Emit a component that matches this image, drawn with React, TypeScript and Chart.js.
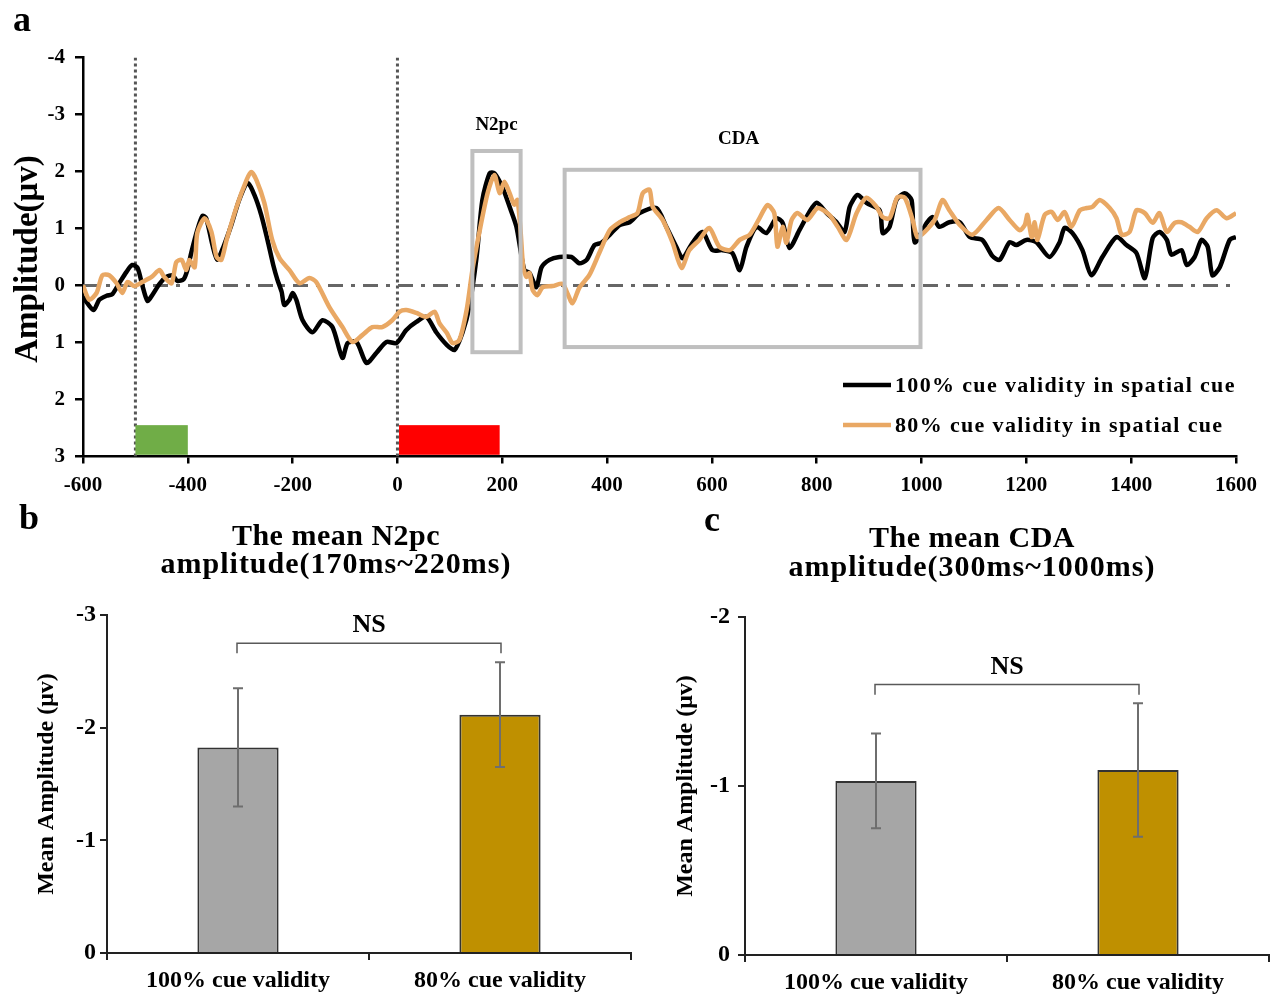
import React, { useEffect, useRef } from 'react';
import { Chart, registerables } from 'chart.js';
Chart.register(...registerables);

const FONT = '"Liberation Serif", "Times New Roman", serif';

// ---------- Panel a : grand-average waveforms ----------
const timeBlack = [-600, -580, -569, -555, -544, -531, -517, -506, -496, -487, -477, -468, -454, -441, -429, -420, -408, -401, -393, -382, -372, -365, -353, -344, -332, -317, -302, -286, -273, -260, -248, -237, -229, -221, -216, -206, -200, -193, -181, -162, -143, -124, -105, -95, -78, -59, -40, -21, -2, 17, 36, 55, 74, 94, 109, 124, 137, 151, 162, 176, 185, 200, 214, 227, 242, 252, 265, 275, 290, 309, 332, 347, 361, 376, 389, 405, 424, 443, 462, 494, 513, 532, 544, 563, 582, 601, 620, 639, 653, 666, 685, 704, 723, 735, 748, 767, 786, 800, 819, 838, 853, 863, 878, 895, 920, 926, 939, 952, 968, 981, 987, 1010, 1021, 1034, 1053, 1073, 1092, 1116, 1135, 1149, 1168, 1181, 1200, 1219, 1244, 1263, 1273, 1288, 1307, 1324, 1345, 1372, 1391, 1410, 1426, 1441, 1454, 1468, 1477, 1496, 1506, 1521, 1534, 1546, 1555, 1569, 1588, 1600];
const ampBlack = [0.2, 0.43, 0.25, 0.18, 0.15, -0.04, -0.24, -0.36, -0.31, -0.01, 0.27, 0.17, -0.03, -0.15, -0.18, -0.08, -0.11, -0.27, -0.59, -0.97, -1.22, -1.18, -0.71, -0.45, -0.68, -1.06, -1.5, -1.8, -1.59, -1.24, -0.8, -0.36, -0.1, 0.11, 0.34, 0.25, 0.13, 0.25, 0.61, 0.82, 0.61, 0.73, 1.27, 1.01, 0.99, 1.36, 1.18, 0.99, 1.01, 0.78, 0.64, 0.55, 0.82, 1.04, 1.13, 0.83, 0.38, -0.5, -1.5, -1.97, -1.97, -1.73, -1.38, -1.03, -0.27, -0.22, 0.03, -0.32, -0.45, -0.5, -0.5, -0.39, -0.45, -0.71, -0.75, -0.89, -1.06, -1.11, -1.27, -1.36, -1.03, -0.68, -0.48, -0.75, -0.94, -0.62, -0.62, -0.57, -0.27, -0.68, -1.03, -0.92, -1.18, -1.1, -0.66, -0.97, -1.29, -1.45, -1.27, -1.11, -0.94, -1.38, -1.59, -1.45, -1.32, -0.92, -1.03, -1.5, -1.62, -1.5, -0.76, -1.1, -1.2, -1.03, -1.11, -1.11, -0.85, -0.8, -0.52, -0.45, -0.76, -0.71, -0.8, -0.76, -0.5, -0.75, -1.01, -0.92, -0.62, -0.18, -0.5, -0.85, -0.71, -0.57, -0.13, -0.83, -0.94, -0.8, -0.54, -0.62, -0.36, -0.5, -0.8, -0.68, -0.18, -0.32, -0.8, -0.85];

const timeOrange = [-600, -588, -574, -563, -550, -536, -525, -515, -502, -487, -469, -454, -445, -431, -422, -412, -403, -397, -387, -382, -368, -355, -345, -336, -326, -307, -288, -279, -269, -254, -239, -225, -206, -187, -168, -155, -130, -105, -86, -67, -48, -29, -10, 4, 17, 36, 55, 71, 80, 94, 105, 118, 132, 143, 156, 172, 185, 195, 204, 214, 223, 229, 235, 240, 246, 252, 258, 267, 277, 296, 315, 324, 334, 347, 366, 385, 405, 424, 443, 458, 468, 481, 487, 506, 525, 542, 557, 576, 595, 614, 634, 653, 672, 689, 706, 719, 725, 735, 742, 752, 763, 782, 802, 824, 840, 857, 876, 895, 914, 926, 939, 954, 968, 983, 992, 1006, 1025, 1040, 1053, 1073, 1097, 1124, 1147, 1168, 1187, 1197, 1202, 1210, 1216, 1221, 1235, 1248, 1260, 1273, 1286, 1302, 1315, 1326, 1340, 1359, 1372, 1382, 1397, 1410, 1426, 1441, 1454, 1468, 1483, 1496, 1511, 1527, 1544, 1563, 1582, 1600];
const ampOrange = [0.0, 0.25, 0.13, -0.18, -0.18, -0.04, 0.13, -0.06, 0.01, -0.06, -0.15, -0.27, -0.15, -0.04, -0.41, -0.45, -0.27, -0.45, -0.32, -0.92, -1.18, -0.94, -0.5, -0.45, -0.8, -1.38, -1.85, -1.99, -1.85, -1.45, -0.8, -0.48, -0.27, -0.04, -0.13, -0.06, 0.38, 0.73, 0.99, 0.87, 0.73, 0.73, 0.61, 0.46, 0.43, 0.48, 0.55, 0.46, 0.66, 0.83, 1.01, 0.96, 0.43, -0.27, -0.92, -1.62, -1.94, -1.62, -1.82, -1.62, -1.42, -1.5, -0.95, -0.32, -0.15, -0.22, 0.08, 0.17, 0.03, 0.01, -0.03, 0.13, 0.31, 0.04, -0.18, -0.57, -0.97, -1.11, -1.2, -1.27, -1.62, -1.68, -1.38, -1.15, -0.75, -0.31, -0.62, -0.8, -1.01, -0.68, -0.62, -0.8, -0.89, -1.15, -1.41, -1.27, -0.68, -1.03, -0.75, -1.15, -1.27, -1.15, -1.36, -1.24, -1.03, -0.8, -1.27, -1.54, -1.38, -1.2, -1.18, -1.55, -1.54, -1.15, -0.85, -0.94, -1.15, -1.5, -1.32, -1.06, -0.89, -1.15, -1.36, -1.15, -0.97, -1.06, -1.24, -0.85, -1.11, -0.8, -1.24, -1.29, -1.15, -1.29, -1.03, -1.32, -1.36, -1.38, -1.5, -1.36, -1.18, -0.89, -0.94, -1.32, -1.27, -1.1, -1.27, -0.94, -1.1, -1.11, -1.03, -0.94, -1.18, -1.32, -1.18, -1.27];

const seriesNames = ['100% cue validity in spatial cue', '80% cue validity in spatial cue'];
const seriesColors = ['#000000', '#E9A864'];
const yTickLabelsA = ['-4', '-3', '2', '1', '0', '1', '2', '3']; // values -4..3
const eventTimes = [-500, 0];
const cueBarMs = [-500, -400];
const targetBarMs = [3, 195];
const markerBarAmp = [2.45, 2.97];
const n2pcBoxMs = [143, 235];
const n2pcBoxAmp = [-2.36, 1.17];
const cdaBoxMs = [319, 998];
const cdaBoxAmp = [-2.03, 1.08];

// ---------- Panels b and c : mean amplitudes ----------
const categories = ['100% cue validity', '80% cue validity'];
const n2pcMeans = [-1.825, -2.115];
const n2pcErrors = [0.525, 0.465];
const cdaMeans = [-1.03, -1.095];
const cdaErrors = [0.28, 0.395];
const barColors = ['#A6A6A6', '#BF9000'];

function drawText(ctx: any, text: string, x: number, y: number, size: number, o: any = {}) {
  ctx.save();
  ctx.font = `bold ${size}px ${FONT}`;
  ctx.fillStyle = o.color || '#000';
  ctx.textAlign = o.align || 'center';
  ctx.textBaseline = o.baseline || 'middle';
  try { ctx.letterSpacing = (o.spacing || 0) + 'px'; } catch (e) {}
  if (o.rotate) {
    ctx.translate(x, y);
    ctx.rotate(o.rotate);
    ctx.fillText(text, 0, 0);
  } else {
    ctx.fillText(text, x, y);
  }
  ctx.restore();
}

const panelAPlugin = {
  id: 'panelA',
  afterDatasetsDraw(chart: any) {
    const { ctx, scales } = chart;
    const x = scales.x, y = scales.y;
    ctx.save();
    const fill = (ms: number[], amp: number[], color: string) => {
      const x0 = x.getPixelForValue(ms[0]), x1 = x.getPixelForValue(ms[1]);
      const y0 = y.getPixelForValue(amp[0]), y1 = y.getPixelForValue(amp[1]);
      ctx.fillStyle = color;
      ctx.fillRect(x0, y0, x1 - x0, y1 - y0);
    };
    fill(cueBarMs, markerBarAmp, '#70AD47');
    fill(targetBarMs, markerBarAmp, '#FF0000');
    const box = (ms: number[], amp: number[]) => {
      const x0 = x.getPixelForValue(ms[0]), x1 = x.getPixelForValue(ms[1]);
      const y0 = y.getPixelForValue(amp[0]), y1 = y.getPixelForValue(amp[1]);
      ctx.strokeStyle = '#BFBFBF';
      ctx.lineWidth = 4;
      ctx.strokeRect(x0, y0, x1 - x0, y1 - y0);
    };
    box(n2pcBoxMs, n2pcBoxAmp);
    box(cdaBoxMs, cdaBoxAmp);
    ctx.restore();

    drawText(ctx, 'N2pc', x.getPixelForValue((n2pcBoxMs[0] + n2pcBoxMs[1]) / 2), y.getPixelForValue(n2pcBoxAmp[0]) - 26, 19);
    drawText(ctx, 'CDA', x.getPixelForValue((cdaBoxMs[0] + cdaBoxMs[1]) / 2) - 4, y.getPixelForValue(cdaBoxAmp[0]) - 31, 19);

    // legend
    const legendY = [385, 425];
    seriesNames.forEach((name, i) => {
      ctx.save();
      ctx.strokeStyle = seriesColors[i];
      ctx.lineWidth = 4.5;
      ctx.beginPath();
      ctx.moveTo(843, legendY[i]);
      ctx.lineTo(891, legendY[i]);
      ctx.stroke();
      ctx.restore();
      drawText(ctx, name, 895, legendY[i] + 1, 22, { align: 'left', spacing: 1.35 });
    });

    drawText(ctx, 'Amplitude(μv)', 28, 259, 33, { rotate: -Math.PI / 2 });
    drawText(ctx, 'a', 22, 22, 36);
  }
};

function makeBarPlugin(cfg: any) {
  return {
    id: 'barDecor',
    afterDatasetsDraw(chart: any) {
      const { ctx, scales } = chart;
      const x = scales.x, y = scales.y;
      ctx.save();
      ctx.strokeStyle = '#6E6E6E';
      ctx.lineWidth = 2;
      cfg.means.forEach((m: number, i: number) => {
        const cx = x.getPixelForValue(i);
        const yt = y.getPixelForValue(m - cfg.errors[i]);
        const yb = y.getPixelForValue(m + cfg.errors[i]);
        ctx.beginPath();
        ctx.moveTo(cx, yt); ctx.lineTo(cx, yb);
        ctx.moveTo(cx - 5, yt); ctx.lineTo(cx + 5, yt);
        ctx.moveTo(cx - 5, yb); ctx.lineTo(cx + 5, yb);
        ctx.stroke();
      });
      // significance bracket
      const bx0 = x.getPixelForValue(0) - 1, bx1 = x.getPixelForValue(1) + 1;
      const by = y.getPixelForValue(cfg.bracket[0]);
      const fy = y.getPixelForValue(cfg.bracket[1]);
      ctx.strokeStyle = '#595959';
      ctx.lineWidth = 1.5;
      ctx.beginPath();
      ctx.moveTo(bx0, fy); ctx.lineTo(bx0, by); ctx.lineTo(bx1, by); ctx.lineTo(bx1, fy);
      ctx.stroke();
      ctx.restore();
      drawText(ctx, 'NS', (bx0 + bx1) / 2, by - 11, 26, { baseline: 'alphabetic' });

      drawText(ctx, cfg.title[0], cfg.titleX, cfg.titleY[0], 30, { baseline: 'alphabetic', spacing: 0.5 });
      drawText(ctx, cfg.title[1], cfg.titleX, cfg.titleY[1], 30, { baseline: 'alphabetic', spacing: 1 });
      drawText(ctx, 'Mean Amplitude (μv)', cfg.yTitleX, (y.top + y.bottom) / 2, 24, { rotate: -Math.PI / 2 });
      drawText(ctx, cfg.letter, cfg.letterX, cfg.letterY, 36);
    }
  };
}

function barConfig(means: number[], cfg: any) {
  const tickFont = { family: FONT, size: 24, weight: 'bold' as const };
  return {
    type: 'bar' as const,
    data: {
      labels: categories,
      datasets: [{
        data: means,
        backgroundColor: barColors,
        borderColor: '#333333',
        borderWidth: 2,
        borderSkipped: 'start',
        categoryPercentage: 1,
        barPercentage: 0.31,
      }],
    },
    options: {
      animation: false,
      responsive: false,
      events: [],
      layout: { padding: { top: cfg.top, right: cfg.right, left: 0, bottom: 0 } },
      plugins: { legend: { display: false }, tooltip: { enabled: false } },
      scales: {
        x: {
          ticks: { font: tickFont, color: '#000', padding: 6 },
          grid: { drawOnChartArea: false, drawTicks: true, tickLength: 7, color: '#222', lineWidth: 2, offset: true },
          border: { color: '#222', width: 2 },
          afterFit: (s: any) => { s.height = cfg.xHeight; },
        },
        y: {
          reverse: true,
          min: cfg.min,
          max: 0,
          ticks: { stepSize: 1, font: tickFont, color: '#000', padding: cfg.yPad, callback: (v: any) => String(v) },
          grid: { drawOnChartArea: false, drawTicks: true, tickLength: 7, color: '#222', lineWidth: 2 },
          border: { color: '#222', width: 2 },
          afterFit: (s: any) => { s.width = cfg.yWidth; },
        },
      },
    },
    plugins: [makeBarPlugin(cfg)],
  };
}

export default function App() {
  const aRef = useRef<HTMLCanvasElement>(null);
  const bRef = useRef<HTMLCanvasElement>(null);
  const cRef = useRef<HTMLCanvasElement>(null);

  useEffect(() => {
    const tickFontA = { family: FONT, size: 21, weight: 'bold' as const };
    const chartA = new Chart(aRef.current as any, {
      type: 'line',
      data: {
        datasets: [
          {
            label: seriesNames[1],
            data: timeOrange.map((t, i) => ({ x: t, y: ampOrange[i] })),
            borderColor: seriesColors[1], borderWidth: 4.5, pointRadius: 0, tension: 0.25, fill: false,
          },
          {
            label: seriesNames[0],
            data: timeBlack.map((t, i) => ({ x: t, y: ampBlack[i] })),
            borderColor: seriesColors[0], borderWidth: 4.5, pointRadius: 0, tension: 0.25, fill: false,
          },
          {
            label: 'baseline',
            data: [{ x: -600, y: 0 }, { x: 1600, y: 0 }],
            borderColor: '#666666', borderWidth: 3, borderDash: [15, 8, 4, 8], pointRadius: 0,
          },
          ...eventTimes.map((t) => ({
            label: 'event ' + t,
            data: [{ x: t, y: -4 }, { x: t, y: 3 }],
            borderColor: '#555555', borderWidth: 3, borderDash: [3, 3], pointRadius: 0,
          })),
        ],
      },
      options: {
        animation: false,
        responsive: false,
        events: [],
        layout: { padding: { top: 57.5, right: 37, left: 0, bottom: 0 } },
        plugins: { legend: { display: false }, tooltip: { enabled: false } },
        scales: {
          x: {
            type: 'linear', min: -600, max: 1600,
            ticks: { stepSize: 200, font: tickFontA, color: '#000', padding: 9, maxRotation: 0, autoSkip: false, callback: (v: any) => String(v) },
            grid: { drawOnChartArea: false, drawTicks: true, tickLength: 7, color: '#000', lineWidth: 2.5 },
            border: { color: '#000', width: 2.5 },
            afterFit: (s: any) => { s.height = 43.5; },
          },
          y: {
            type: 'linear', reverse: true, min: -4, max: 3,
            ticks: { stepSize: 1, font: tickFontA, color: '#000', padding: 10, callback: (v: any) => yTickLabelsA[Math.round(v) + 4] },
            grid: { drawOnChartArea: false, drawTicks: true, tickLength: 8, color: '#000', lineWidth: 2.5 },
            border: { color: '#000', width: 2.5 },
            afterFit: (s: any) => { s.width = 83; },
          },
        },
      } as any,
      plugins: [panelAPlugin],
    });

    const chartB = new Chart(bRef.current as any, barConfig(n2pcMeans, {
      means: n2pcMeans, errors: n2pcErrors, bracket: [-2.75, -2.66],
      title: ['The mean N2pc', 'amplitude(170ms~220ms)'], titleX: 336, titleY: [45, 73],
      yTitleX: 47, letter: 'b', letterX: 29, letterY: 20,
      top: 115, right: 9, xHeight: 43, yWidth: 107, min: -3, yPad: 4,
    }) as any);

    const chartC = new Chart(cRef.current as any, barConfig(cdaMeans, {
      means: cdaMeans, errors: cdaErrors, bracket: [-1.6, -1.54],
      title: ['The mean CDA', 'amplitude(300ms~1000ms)'], titleX: 332, titleY: [47, 76],
      yTitleX: 46, letter: 'c', letterX: 72, letterY: 22,
      top: 117, right: 4, xHeight: 41, yWidth: 105, min: -2, yPad: 8,
    }) as any);

    return () => { chartA.destroy(); chartB.destroy(); chartC.destroy(); };
  }, []);

  return (
    <div style={{ position: 'absolute', left: 0, top: 0, width: 1273, height: 996, background: '#fff' }}>
      <canvas ref={aRef} width={1273} height={500} style={{ position: 'absolute', left: 0, top: 0, width: 1273, height: 500 }} />
      <canvas ref={bRef} width={640} height={496} style={{ position: 'absolute', left: 0, top: 500, width: 640, height: 496 }} />
      <canvas ref={cRef} width={633} height={496} style={{ position: 'absolute', left: 640, top: 500, width: 633, height: 496 }} />
    </div>
  );
}
